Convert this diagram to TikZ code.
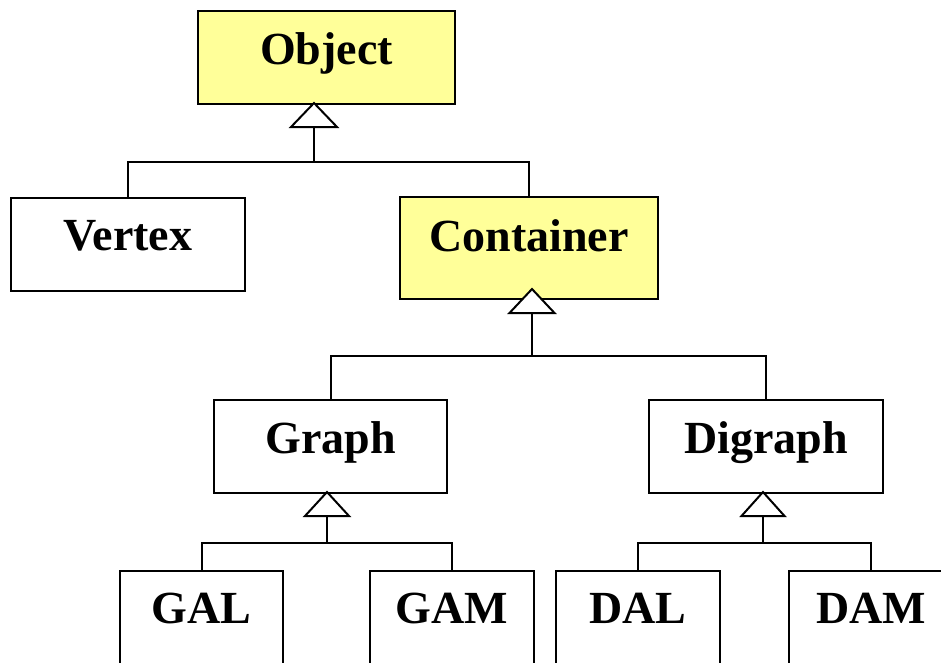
\documentclass[tikz,border=0pt]{standalone}
\usepackage{fontspec}
\setmainfont{Liberation Serif}
\usetikzlibrary{calc}
\definecolor{objyellow}{RGB}{255,255,153}
\begin{document}
\begin{tikzpicture}[x=1pt,y=-1pt, line width=2pt,
  cls/.style={draw=black, fill=white, rectangle, inner sep=0pt, anchor=north west},
  hot/.style={cls, fill=objyellow},
  lbl/.style={anchor=base, inner sep=0pt, font=\fontsize{46}{50}\selectfont\bfseries},
  tri/.style={draw=black, fill=white, line join=miter},
  wire/.style={draw=black}]
\clip (0,0) rectangle (941,662);
\fill[white] (0,0) rectangle (941,662);
% boxes
\node[hot, minimum width=257pt, minimum height=93pt] (object) at (197,10) {};
\node[cls, minimum width=234pt, minimum height=93pt] (vertex) at (10,197) {};
\node[hot, minimum width=258pt, minimum height=102pt] (container) at (399,196) {};
\node[cls, minimum width=233pt, minimum height=93pt] (graph) at (213,399) {};
\node[cls, minimum width=234pt, minimum height=93pt] (digraph) at (648,399) {};
\node[cls, minimum width=163pt, minimum height=110pt] (gal) at (119,570) {};
\node[cls, minimum width=164pt, minimum height=110pt] (gam) at (369,570) {};
\node[cls, minimum width=164pt, minimum height=110pt] (dal) at (555,570) {};
\node[cls, minimum width=164pt, minimum height=110pt] (dam) at (788,570) {};
% labels
\node[lbl] (objectt) at ($(object.north)+(0,54)$) {Object};
\node[lbl] (vertext) at ($(vertex.north)+(0,53)$) {Vertex};
\node[lbl] (containert) at ($(container.north)+(0,55)$) {Container};
\node[lbl] (grapht) at ($(graph.north)+(0,54)$) {Graph};
\node[lbl] (digrapht) at ($(digraph.north)+(0,54)$) {Digraph};
\node[lbl] (galt) at ($(gal.north)+(0,53)$) {GAL};
\node[lbl] (gamt) at ($(gam.north)+(0,53)$) {GAM};
\node[lbl] (dalt) at ($(dal.north)+(0,53)$) {DAL};
\node[lbl] (damt) at ($(dam.north)+(0,53)$) {DAM};
% triangle tips, bases and junctions
\coordinate (t1) at (314,103);
\coordinate (b1) at (314,127);
\coordinate (j1) at (314,162);
\coordinate (t2) at (532,289);
\coordinate (b2) at (532,313);
\coordinate (j2) at (532,356);
\coordinate (t3) at (327,492);
\coordinate (b3) at (327,516);
\coordinate (j3) at (327,543);
\coordinate (t4) at (763,492);
\coordinate (b4) at (763,516);
\coordinate (j4) at (763,543);
% connectors
\draw[wire] (b1) -- (j1);
\draw[wire] (vertex.north) |- (j1) -| (container.north);
\draw[wire] (b2) -- (j2);
\draw[wire] (graph.north) |- (j2) -| (digraph.north);
\draw[wire] (b3) -- (j3);
\draw[wire] (gal.north) |- (j3) -| (gam.north);
\draw[wire] (b4) -- (j4);
\draw[wire] (dal.north) |- (j4) -| (dam.north);
% generalization triangles
\draw[tri] (t1) -- ($(b1)+(-23,0)$) -- ($(b1)+(23,0)$) -- cycle;
\draw[tri] (t2) -- ($(b2)+(-22.5,0)$) -- ($(b2)+(22.5,0)$) -- cycle;
\draw[tri] (t3) -- ($(b3)+(-22,0)$) -- ($(b3)+(22,0)$) -- cycle;
\draw[tri] (t4) -- ($(b4)+(-21.5,0)$) -- ($(b4)+(21.5,0)$) -- cycle;
\end{tikzpicture}
\end{document}
